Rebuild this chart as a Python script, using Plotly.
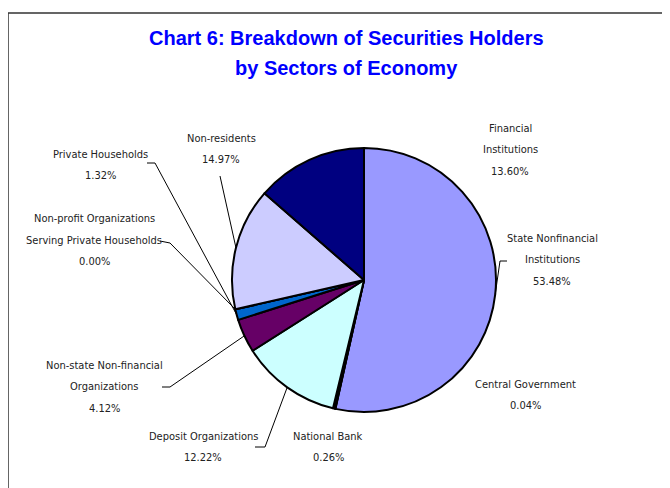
import numpy as np
import plotly.graph_objects as go

# Data
sectors = ["State Nonfinancial Institutions", "Central Government", "National Bank",
           "Deposit Organizations", "Non-state Non-financial Organizations",
           "Private Households", "Non-profit Organizations Serving Private Households",
           "Non-residents", "Financial Institutions"]
shares = [53.48, 0.04, 0.26, 12.22, 4.12, 1.32, 0.00, 14.97, 13.60]
colors = ["#9999FF", "#FFFFFF", "#000000", "#CCFFFF", "#660066",
          "#0066CC", "#FFFFFF", "#CCCCFF", "#000080"]
title_lines = ["Chart 6: Breakdown of Securities Holders", "by Sectors of Economy"]

W, H = 670, 488
OFF = 8  # page body margin
CX, CY, R = 364, 280, 132
FONT = "Liberation Sans Narrow, DejaVu Sans Condensed, Liberation Sans, Arial, sans-serif"
TITLE_FONT = "Liberation Sans, Arial, sans-serif"


def px(x):
    return (x - OFF) / W


def py(y):
    return 1 - (y - OFF) / H


# label layout: text lines, centre x, first line y, leader (anchor, knee) or None
label_pos = {
    "State Nonfinancial Institutions": (["State Nonfinancial", "Institutions"], 552, 238, (507, 261, 500, 261)),
    "Central Government": (["Central Government"], 525, 384, None),
    "National Bank": (["National Bank"], 328, 436, None),
    "Deposit Organizations": (["Deposit Organizations"], 203, 436, (255, 447, 265, 447)),
    "Non-state Non-financial Organizations": (["Non-state Non-financial", "Organizations"], 104, 365, (162, 387, 170, 387)),
    "Private Households": (["Private Households"], 100, 154, (147, 163, 155, 163)),
    "Non-profit Organizations Serving Private Households": (["Non-profit Organizations", "Serving Private Households"], 94, 219, (160, 241, 170, 243)),
    "Non-residents": (["Non-residents"], 221, 138, (220, 176, 220, 176)),
    "Financial Institutions": (["Financial", "Institutions"], 510, 128, None),
}

fig = go.Figure(go.Pie(
    labels=sectors, values=shares, sort=False, direction="clockwise", rotation=0,
    marker=dict(colors=colors, line=dict(color="#000000", width=2)),
    textinfo="none", showlegend=False,
    domain=dict(x=[px(CX - R), px(CX + R)], y=[py(CY + R), py(CY - R)]),
))

annotations = []
shapes = []
total = sum(shares)
start = 0.0
for name, val in zip(sectors, shares):
    span = val / total * 360
    mid = np.radians(start + span / 2)
    start += span
    lines, lx, ly, leader = label_pos[name]
    lines = lines + [f"{val:.2f}%"]
    for i, t in enumerate(lines):
        annotations.append(dict(x=px(lx), y=py(ly + i * 21.5), xref="paper", yref="paper",
                                text=t, showarrow=False, xanchor="center", yanchor="middle",
                                font=dict(family=FONT, size=11, color="#222222")))
    if leader:
        ax, ay, kx, ky = leader
        ex, ey = CX + R * np.sin(mid), CY - R * np.cos(mid)
        for x0, y0, x1, y1 in [(ax, ay, kx, ky), (kx, ky, ex, ey)]:
            shapes.append(dict(type="line", xref="paper", yref="paper",
                               x0=px(x0), y0=py(y0), x1=px(x1), y1=py(y1),
                               line=dict(color="#000000", width=1)))

# title
for i, t in enumerate(title_lines):
    annotations.append(dict(x=px(347), y=py(38 + i * 30), xref="paper", yref="paper",
                            text=f"<b>{t}</b>", showarrow=False, xanchor="center", yanchor="middle",
                            font=dict(family=TITLE_FONT, size=20, color="#0000FF")))

# chart frame
shapes.append(dict(type="rect", xref="paper", yref="paper", x0=px(8), y0=py(13), x1=1.02, y1=-0.05,
                   line=dict(color="#333333", width=1.5)))

fig.update_layout(
    width=W, height=H, margin=dict(l=0, r=0, t=0, b=0),
    paper_bgcolor="white", plot_bgcolor="white",
    annotations=annotations, shapes=shapes,
)
fig.write_html("out.html")
